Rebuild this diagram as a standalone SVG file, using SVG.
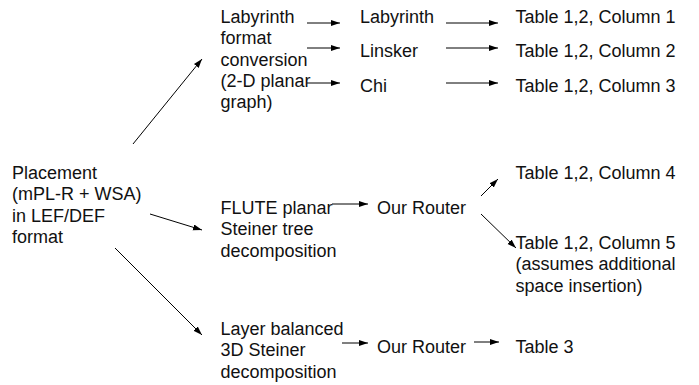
<svg xmlns="http://www.w3.org/2000/svg" width="699" height="385" viewBox="0 0 699 385">
<style>
text{font-family:"Liberation Sans",Arial,sans-serif;font-size:18px;fill:#111}
.c{stroke:#000;stroke-width:1;fill:none;marker-end:url(#ah)}
</style>
<defs>
<marker id="ah" markerUnits="userSpaceOnUse" markerWidth="10" markerHeight="8" refX="9" refY="3" orient="auto">
<path d="M0,0 L9,3 L0,6 Z" fill="#000"/>
</marker>
</defs>
<rect width="699" height="385" fill="#fff"/>
<g id="connectors">
<line class="c" x1="133" y1="144" x2="202" y2="59"/>
<line class="c" x1="150" y1="214" x2="202" y2="230"/>
<line class="c" x1="115" y1="248" x2="202" y2="335"/>
<line class="c" x1="307" y1="23" x2="340" y2="23"/>
<line class="c" x1="307" y1="48" x2="340" y2="48"/>
<line class="c" x1="307" y1="83" x2="340" y2="83"/>
<line class="c" x1="446" y1="23" x2="498" y2="23"/>
<line class="c" x1="446" y1="48" x2="498" y2="48"/>
<line class="c" x1="446" y1="83" x2="498" y2="83"/>
<line class="c" x1="332" y1="204" x2="368" y2="204"/>
<line class="c" x1="481" y1="196" x2="498" y2="179"/>
<line class="c" x1="481" y1="214" x2="516" y2="248"/>
<line class="c" x1="342" y1="343" x2="368" y2="343"/>
<line class="c" x1="474" y1="342" x2="499" y2="342"/>
</g>
<g id="placement">
<text x="12" y="179">Placement</text>
<text x="12" y="200.3">(mPL-R + WSA)</text>
<text x="12" y="221.6">in LEF/DEF</text>
<text x="12" y="242.9">format</text>
</g>
<g id="labyrinth-conv">
<text x="220.5" y="23">Labyrinth</text>
<text x="220.5" y="44.3">format</text>
<text x="220.5" y="65.6">conversion</text>
<text x="220.5" y="86.9">(2-D planar</text>
<text x="220.5" y="108.2">graph)</text>
</g>
<g id="flute"><text x="220.5" y="214">FLUTE planar</text>
<text x="220.5" y="235.3">Steiner tree</text>
<text x="220.5" y="256.6">decomposition</text></g>
<g id="layer"><text x="220.5" y="335">Layer balanced</text>
<text x="220.5" y="356.3">3D Steiner</text>
<text x="220.5" y="377.6">decomposition</text></g>
<g id="labyrinth"><text x="360" y="23.3">Labyrinth</text></g>
<g id="linsker"><text x="360" y="56.7">Linsker</text></g>
<g id="chi"><text x="360" y="91.7">Chi</text></g>
<g id="router1"><text x="377" y="213.5">Our Router</text></g>
<g id="router2"><text x="377" y="352.5">Our Router</text></g>
<g id="t1"><text x="515.5" y="23.3">Table 1,2, Column 1</text></g>
<g id="t2"><text x="515.5" y="56.7">Table 1,2, Column 2</text></g>
<g id="t3"><text x="515.5" y="91.7">Table 1,2, Column 3</text></g>
<g id="t4"><text x="515.5" y="178.8">Table 1,2, Column 4</text></g>
<g id="t5"><text x="515.5" y="249">Table 1,2, Column 5</text>
<text x="515.5" y="270.3">(assumes additional</text>
<text x="515.5" y="291.6">space insertion)</text></g>
<g id="t6"><text x="515.5" y="352.5">Table 3</text></g>
</svg>
